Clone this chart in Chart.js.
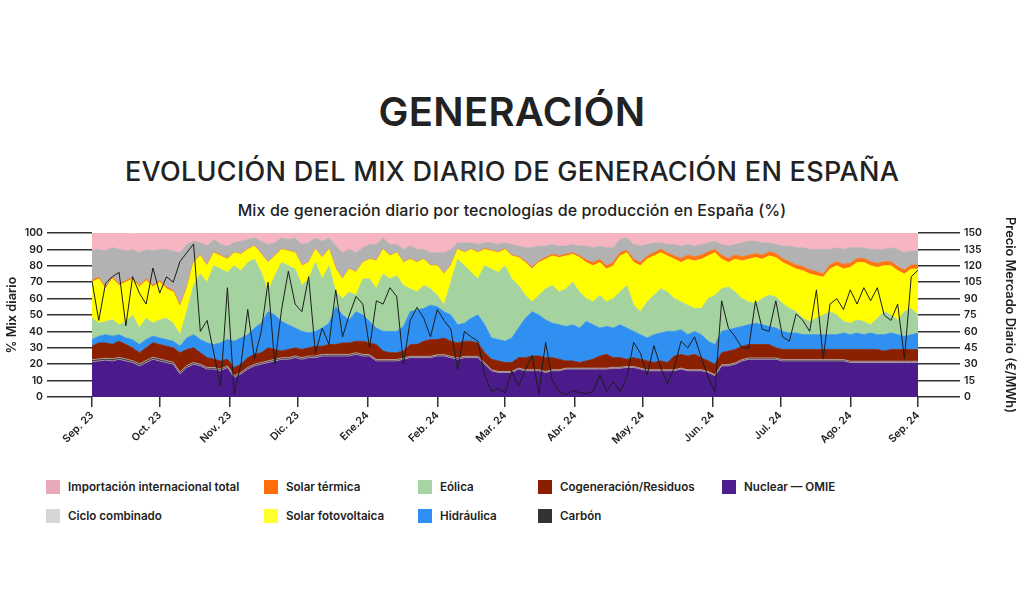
<!DOCTYPE html>
<html lang="es">
<head>
<meta charset="utf-8">
<script src="https://cdn.jsdelivr.net/npm/chart.js@4.4.1/dist/chart.umd.min.js"></script>
<style>
  body { margin: 0; width: 1024px; height: 614px; background: #fff; position: relative; overflow: hidden;
         font-family: Inter, "Noto Sans", sans-serif; color: #222; }
  .t1 { position: absolute; left: 0; width: 1024px; top: 92px; text-align: center; font-size: 40px; line-height: 40px; font-weight: 600; letter-spacing: 0.3px; }
  .t2 { position: absolute; left: 0; width: 1024px; top: 158px; text-align: center; font-size: 27px; line-height: 27px; font-weight: 500; letter-spacing: 0.3px; }
  .t3 { position: absolute; left: 0; width: 1024px; top: 201px; text-align: center; font-size: 16px; line-height: 18px; font-weight: 500; letter-spacing: 0.1px; }
  #wrap { position: absolute; left: 0; top: 200px; width: 1024px; height: 255px; }
  .lg { position: absolute; display: flex; align-items: center; font-size: 11.6px; font-weight: 600; white-space: nowrap; }
  .lg i { display: inline-block; width: 14px; height: 14px; margin-right: 8px; }
</style>
</head>
<body>
<div class="t1">GENERACIÓN</div>
<div class="t2">EVOLUCIÓN DEL MIX DIARIO DE GENERACIÓN EN ESPAÑA</div>
<div class="t3">Mix de generación diario por tecnologías de producción en España (%)</div>
<div id="wrap"><canvas id="mix"></canvas></div>

<div class="lg" style="left:46px;top:480px"><i style="background:#eaa9b9"></i>Importación internacional total</div>
<div class="lg" style="left:264px;top:480px"><i style="background:#ff6d0a"></i>Solar térmica</div>
<div class="lg" style="left:418px;top:480px"><i style="background:#a6d4a2"></i>Eólica</div>
<div class="lg" style="left:538px;top:480px"><i style="background:#8b1e00"></i>Cogeneración/Residuos</div>
<div class="lg" style="left:722px;top:480px"><i style="background:#4c1d8c"></i>Nuclear — OMIE</div>
<div class="lg" style="left:46px;top:509px"><i style="background:#d6d6d6"></i>Ciclo combinado</div>
<div class="lg" style="left:264px;top:509px"><i style="background:#ffff2e"></i>Solar fotovoltaica</div>
<div class="lg" style="left:418px;top:509px"><i style="background:#2f8ff5"></i>Hidráulica</div>
<div class="lg" style="left:538px;top:509px"><i style="background:#333333"></i>Carbón</div>

<script>
// días desde el 1 de septiembre de 2023 (una muestra cada 3 días)
const days = [0,3,6,9,12,15,18,21,24,27,30,33,36,39,42,45,48,51,54,57,60,63,66,69,72,75,78,81,84,87,
  90,93,96,99,102,105,108,111,114,117,120,123,126,129,132,135,138,141,144,147,150,153,156,159,162,165,168,171,174,177,
  180,183,186,189,192,195,198,201,204,207,210,213,216,219,222,225,228,231,234,237,240,243,246,249,252,255,258,261,264,267,
  270,273,276,279,282,285,288,291,294,297,300,303,306,309,312,315,318,321,324,327,330,333,336,339,342,345,348,351,354,357,
  360,363,366];

const monthTicks = [0,30,61,91,122,153,183,214,244,275,305,336,366];
const monthLabels = ["Sep. 23","Oct. 23","Nov. 23","Dic. 23","Ene.24","Feb. 24","Mar. 24",
  "Abr. 24","May. 24","Jun. 24","Jul. 24","Ago. 24","Sep. 24"];

// % del mix diario
const nuclear = [21.5,22,22.5,22,23,22,21,19,21,23, 22,21,20,14,18,20,19,17,17,16,
  18,12,14,17,19,20,21,22,23,23, 24,23,24,24,25,25,25,25,25,26,
  25,25,22,22,22,22,23,24,24,24, 24,25,25,24,23,24,24,24,20,16,
  15,15,15,17,16,16,16,15,16,16, 17,17,17,17,17,17,17,17.5,17.5,18,
  18,17,16,16,16,16,16,17,16,16, 16,15,13,19,19,20,22,23,23,23,
  23,23,22,22,22,22,22,22,22,22, 22,22,21,21,21,21,21,21,21,21,
  21,21,21];
const carbon = [1.3,1.2,1.2,1.3,1.2,1.2,1.1,1.2,1.2,1.3, 1.2,1.2,1.2,1.2,1.2,1.0,1.0,1.0,1.0,1.0,
  1.0,1.0,1.0,1.0,1.0,1.0,1.0,1.0,1.0,1.0, 1.0,1.0,1.0,1.0,1.0,1.0,1.0,1.0,1.0,1.0,
  1.0,0.8,0.8,0.8,0.8,0.8,0.8,0.8,0.8,0.8, 0.8,0.8,0.8,0.8,0.8,0.8,0.8,0.8,0.8,0.6,
  0.6,0.6,0.6,0.6,0.6,0.6,0.6,0.6,0.6,0.6, 0.6,0.6,0.6,0.6,0.6,0.6,0.6,0.6,0.6,0.6,
  0.6,0.6,0.6,0.6,0.6,0.6,0.6,0.6,0.6,0.6, 0.6,0.6,0.6,0.6,0.8,0.8,0.8,0.8,0.8,0.8,
  0.8,0.8,0.8,0.8,0.8,0.8,0.8,0.8,0.8,0.8, 0.8,0.8,0.8,0.8,0.8,0.8,0.8,0.8,0.8,0.8,
  0.8,0.8,0.8];
const cogeneracion = [8.3,9.8,9.3,8.8,9.8,8.8,7.8,6.8,7.8,8.8, 8.8,8.8,8.8,11.8,9.8,9,7,6,5,5,
  4,5,5,6,6,6,8,6,4,5, 5,5,5,6,5,6,6,7,7,7,
  8,7.2,9.2,5.2,4.2,4.2,4.2,7.2,7.2,9.2, 10.2,9.2,10.2,9.2,9.2,9.2,9.2,8.2,6.2,6.4,
  6.4,5.4,5.4,6.4,7.4,8.4,8.4,8.4,7.4,6.4, 4.4,4.4,3.4,4.4,5.4,7.4,8.4,5.9,5.9,4.4,
  5.4,5.4,5.4,4.4,5.4,4.4,8.4,8.4,8.4,9.4, 7.4,6.4,6.4,7.4,8.2,8.2,8.2,8.2,8.2,8.2,
  8.2,6.2,6.2,6.2,6.2,6.2,6.2,6.2,6.2,6.2, 6.2,6.2,7.2,7.2,7.2,7.2,7.2,6.2,7.2,7.2,
  7.2,7.2,7.2];
const hidraulica = [4,4,5,5,4,4,5,5,5,4, 4,4,4,4,7,8,8,9,9,11,
  12,16,16,14,16,18,22,21,18,15, 12,11,9,9,11,13,23,17,14,18,
  16,13,10,12,13,13,15,20,21,20, 21,20,16,16,11,11,14,17,17,13,
  13,13,15,18,24,27,25,23,21,21, 21,22,21,24,21,17,17,18,20,19,
  16,15,14,17,17,19,15,15,13,14, 14,12,12,13,13,13,12,12,13,12,
  11,12,11,10,10,9,9,9,9,9, 9,10,9,10,9,10,9,10,10,9,
  8,9,10];
const eolica = [13,8,8,10,6,10,15,10,13,8, 11,13,11,7,16,30,40,37,48,45,
  41,46,41,44,42,31,12,24,36,36, 36,28,33,42,30,35,9,10,17,10,
  22,26,24,35,32,34,25,14,11,14, 10,7,4,20,40,35,28,22,36,42,
  41,46,36,26,14,6,12,19,23,20, 23,26,22,14,14,20,15,18,20,26,
  16,14,22,24,27,24,20,17,18,14, 16,26,30,26,26,22,17,14,12,16,
  19,19,17,15,13,10,8,10,12,14, 12,7,7,8,8,5,10,14,11,9,
  15,16,11];
const solarFV = [22,27,20,25,24,24,22,25,23,22, 23,18,19,17,14,14,11,10,8,8,
  8,8,10,8,8,11,18,12,8,9, 10,12,10,8,13,10,14,12,14,14,
  10,12,17,15,14,14,14,18,18,16, 14,18,19,10,6,8,14,16,10,11,
  12,10,14,17,20,20,20,18,18,21, 20,17,21,22,22,20,20,20,22,20,
  26,28,26,24,22,22,24,24,28,29, 30,26,26,18,15,20,23,26,28,24,
  24,24,25,26,26,29,29,26,23,26, 30,32,34,35,36,36,31,28,30,30,
  23,24,28];
const solarTermica = [1,1,1,1,1,1,1,1,1,1, 1,1,1,1,1,0.5,0.5,0.5,0.5,0.5,
  0.5,0.3,0.3,0.3,0.3,0.3,0.3,0.3,0.3,0.3, 0.3,0.3,0.3,0.3,0.3,0.3,0.3,0.3,0.3,0.3,
  0.3,0.3,0.3,0.3,0.3,0.3,0.3,0.3,0.3,0.3, 0.3,0.3,0.3,0.3,0.3,0.3,0.3,0.3,0.5,0.5,
  0.5,0.5,0.5,0.5,1,1,1,1,1,1, 1,1,1,1.5,2,2,2,2,2,1.5,
  2,2,2,2,2,2,2,2.5,2.5,2.5, 2.5,2.5,2,2.5,2.5,2.5,2.5,2.5,2.5,2.5,
  2.5,2.5,2.5,2.5,2.5,2.5,2.5,2.5,2,2.5, 2.5,3,2.5,2.5,2.5,2.5,2.5,2.5,2.5,2.5,
  2.5,2.5,2.5];
const cicloCombinado = [18,17,22,18,21,18,17,20,18,21, 19,23,24,32,26,12.5,7.5,11.5,7.5,6.5,
  7.5,5.7,7.7,5.7,4.7,7.7,10.7,7.7,6.7,6.7, 8.7,12.7,11.7,6.7,9.7,6.7,13.7,15.7,11.7,11.7,
  8.7,8.7,9.7,6.7,6.7,4.7,7.7,7.7,7.7,5.7, 7.7,7.7,12.7,9.7,3.7,5.7,3.7,4.7,3.5,4.5,
  4.5,3.5,6.5,6.5,8,12,9,7,6,6, 5,5,6,8.5,9,8,11,9,8,7.5,
  9,10,7,6,4,5,7,7.5,6.5,6.5, 6.5,5.5,5,6.5,7.5,6.5,8.5,8.5,7.5,7.5,
  5.5,5.5,7.5,9.5,10.5,11.5,12.5,13.5,15,9.5, 8.5,9,9.5,6.5,6.5,7.5,8.5,7.5,8.5,10.5,
  10.5,8.5,8.5];
const importacion = [11,10,11,9,10,11,10,12,10,11, 10,10,11,12,7,5,6,8,4,7,
  8,6,5,4,3,5,7,6,3,4, 3,7,6,3,5,3,8,12,10,12,
  9,7,7,3,7,7,10,8,10,10, 12,12,12,10,6,6,6,7,6,6,
  7,6,7,8,9,9,8,8,7,8, 8,7,8,8,9,8,9,9,4,3,
  7,8,7,6,6,7,7,8,7,8, 7,6,5,7,8,7,6,5,5,6,
  6,7,8,8,9,9,10,10,10,10, 9,10,9,9,9,10,10,10,9,10,
  12,11,11];

// precio mercado diario (€/MWh)
const precio = [106,70,104,110,114,65,110,95,85,118, 95,110,105,124,132,140,60,70,40,10,
  100,3,30,80,35,60,105,30,80,115, 85,78,110,40,63,48,98,55,75,92,
  85,45,88,85,100,92,30,70,82,72, 55,80,70,62,25,60,55,51,20,5,
  8,4,24,10,25,38,3,50,15,5, 2,6,4,3,5,20,5,14,5,18,
  50,40,20,47,27,12,27,51,45,55, 36,18,5,88,63,55,45,45,88,62,
  60,88,55,51,76,70,60,98,35,85, 90,80,98,85,100,88,100,75,70,85,
  35,110,116];

function area(label, data, color, border, fill) {
  return {
    label: label, data: data, yAxisID: "y", stack: "mix",
    backgroundColor: color, borderColor: border || color, borderWidth: 0.8,
    fill: fill || "-1", pointRadius: 0, tension: 0
  };
}

const tickFont = { family: "Inter", size: 10.5, weight: "600" };
const titleFont = { family: "Inter", size: 12.8, weight: "600" };

new Chart(document.getElementById("mix"), {
  type: "line",
  data: {
    labels: days,
    datasets: [
      { label: "Precio", data: precio, yAxisID: "y2", borderColor: "#1c1c1c", borderWidth: 1,
        pointRadius: 0, fill: false, tension: 0 },
      area("Nuclear — OMIE", nuclear, "#4c1b8b", "#b79fa8", "origin"),
      area("Carbón", carbon, "#3a3a3a", "#c3a8aa"),
      area("Cogeneración/Residuos", cogeneracion, "#8b2100"),
      area("Hidráulica", hidraulica, "#2f90f2"),
      area("Eólica", eolica, "#a4d3a0"),
      area("Solar fotovoltaica", solarFV, "#ffff00"),
      area("Solar térmica", solarTermica, "#ff7414"),
      area("Ciclo combinado", cicloCombinado, "#b2b2b2"),
      area("Importación internacional total", importacion, "#f7b5c2")
    ]
  },
  options: {
    responsive: true, maintainAspectRatio: false, animation: false,
    layout: { padding: { top: 33, left: 0, right: 0, bottom: 0 } },
    plugins: { legend: { display: false }, tooltip: { enabled: false } },
    scales: {
      x: {
        type: "linear", min: 0, max: 366,
        afterBuildTicks: s => { s.ticks = monthTicks.map(v => ({ value: v })); },
        afterFit: s => { s.height = 58; },
        ticks: { autoSkip: false, minRotation: 45, maxRotation: 45, color: "#222", font: tickFont,
                 padding: 2, callback: (v, i) => monthLabels[i] },
        grid: { drawOnChartArea: false, tickLength: 10, color: "#333", lineWidth: 1.5 },
        border: { display: false }
      },
      y: {
        stacked: true, min: 0, max: 100,
        afterFit: s => { s.width = 92; },
        ticks: { stepSize: 10, color: "#222", font: tickFont, padding: 4 },
        grid: { drawOnChartArea: false, tickLength: 45, color: "#333", lineWidth: 1.5 },
        border: { display: false },
        title: { display: true, text: "% Mix diario", color: "#222",
                 font: titleFont, padding: { top: 4, bottom: 0 } }
      },
      y2: {
        position: "right", min: 0, max: 150,
        afterFit: s => { s.width = 106; },
        ticks: { stepSize: 15, color: "#222", font: tickFont, padding: 4 },
        grid: { drawOnChartArea: false, tickLength: 42, color: "#333", lineWidth: 1.5 },
        border: { display: false },
        title: { display: true, text: "Precio Mercado Diario (€/MWh)", color: "#222",
                 font: titleFont, padding: { top: 6, bottom: 0 } }
      }
    }
  }
});
</script>
</body>
</html>
